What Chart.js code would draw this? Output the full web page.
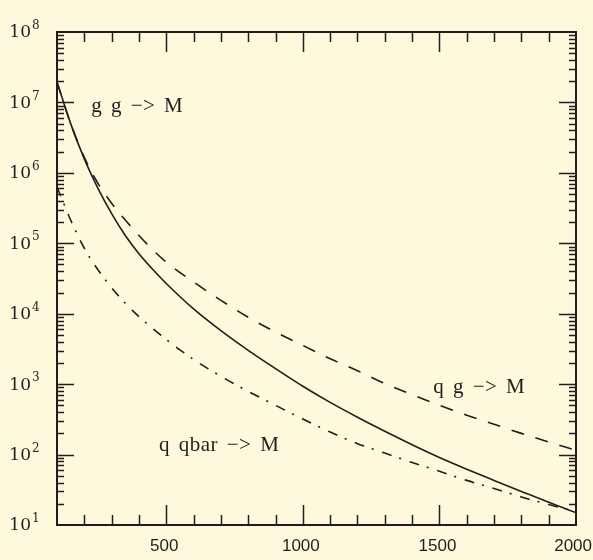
<!DOCTYPE html>
<html>
<head>
<meta charset="utf-8">
<script src="https://cdn.jsdelivr.net/npm/chart.js@4/dist/chart.umd.min.js"></script>
<style>
    html, body { margin: 0; padding: 0; background: #fef8dc; }
    #wrap { width: 593px; height: 560px; }
</style>
</head>
<body>
<div id="wrap"><canvas id="xsec"></canvas></div>
<script>
// Mass points and cross sections for the three production channels
const massPoints = [100, 150, 200, 250, 300, 350, 400, 450, 500, 600, 700, 800, 900, 1000,
    1100, 1200, 1300, 1400, 1500, 1600, 1700, 1800, 1900, 2000];
const ggValues = [1.95e7, 5.0e6, 1.58e6, 6.0e5, 2.63e5, 1.29e5, 7.1e4, 4.27e4, 2.69e4, 1.17e4, 5750, 3020, 1660, 933,
    550, 339, 214, 138, 91, 62, 43, 30, 21, 15];
const qgValues = [1.95e7, 5.0e6, 1.66e6, 7.1e5, 3.7e5, 2.14e5, 1.29e5, 8.1e4, 5.4e4, 2.82e4, 1.55e4, 8900, 5500, 3550,
    2290, 1550, 1020, 710, 500, 363, 269, 200, 151, 115];
const qqbarValues = [6.3e5, 2.14e5, 8.5e4, 4.2e4, 2.34e4, 1.41e4, 9100, 6200, 4300, 2240, 1290, 790, 500, 320,
    209, 143, 105, 77, 58, 43, 33, 25, 19.5, 15.5];

const xMajorTicks = [500, 1000, 1500, 2000];
const yExponents = [1, 2, 3, 4, 5, 6, 7, 8];

// curve captions: text, mass and value where the baseline starts
const captions = [
    { text: 'g g −> M', x: 225, y: 7.3e6 },
    { text: 'q g −> M', x: 1477, y: 750 },
    { text: 'q qbar −> M', x: 473, y: 112 }
];

const ink = '#1e1e1e';

function toPoints(values) {
    return massPoints.map((m, i) => ({ x: m, y: values[i] }));
}

// frame, inward ticks on all four sides, tick labels and captions
const framePlugin = {
    id: 'frame',
    afterDraw(chart) {
        const ctx = chart.ctx;
        const a = chart.chartArea;
        const xs = chart.scales.x, ys = chart.scales.y;
        ctx.save();
        ctx.strokeStyle = ink;
        ctx.lineCap = 'butt';

        // x ticks every 100, longer at every 500
        ctx.lineWidth = 1.5;
        ctx.beginPath();
        for (let m = 200; m < 2000; m += 100) {
            const px = Math.round(xs.getPixelForValue(m)) + 0.5;
            const len = m % 500 === 0 ? 20 : 10;
            ctx.moveTo(px, a.bottom); ctx.lineTo(px, a.bottom - len);
            ctx.moveTo(px, a.top); ctx.lineTo(px, a.top + len);
        }
        // y ticks: decades long, 2..9 short
        for (let e = 1; e <= 8; e++) {
            for (let k = 1; k <= 9; k++) {
                const v = k * Math.pow(10, e);
                if (v <= 10 || v >= 1e8) continue;
                const py = Math.round(ys.getPixelForValue(v)) + 0.5;
                const len = k === 1 ? 17 : 7;
                ctx.moveTo(a.left, py); ctx.lineTo(a.left + len, py);
                ctx.moveTo(a.right, py); ctx.lineTo(a.right - len, py);
            }
        }
        ctx.stroke();

        // frame
        ctx.lineWidth = 2;
        ctx.strokeRect(a.left, a.top, a.right - a.left, a.bottom - a.top);

        // x labels
        ctx.fillStyle = ink;
        ctx.font = '17px "Liberation Sans", Arial, sans-serif';
        ctx.textAlign = 'center';
        ctx.textBaseline = 'middle';
        xMajorTicks.forEach(m => {
            const label = String(m);
            let px = xs.getPixelForValue(m) - 2;
            const w = ctx.measureText(label).width;
            px = Math.min(px, chart.width - 1 - w / 2);
            ctx.fillText(label, px, 546);
        });

        // y labels as 10 with a raised exponent
        yExponents.forEach(e => {
            const py = ys.getPixelForValue(Math.pow(10, e));
            ctx.font = '17px "DejaVu Serif", serif';
            ctx.textAlign = 'right';
            ctx.textBaseline = 'middle';
            ctx.fillText('10', 31, py + 1);
            ctx.font = '12px "DejaVu Serif", serif';
            ctx.textAlign = 'left';
            ctx.fillText(String(e), 32, py - 6);
        });

        // captions
        ctx.font = '21px "Liberation Serif", "Times New Roman", serif';
        ctx.textAlign = 'left';
        ctx.textBaseline = 'alphabetic';
        ctx.letterSpacing = '0.5px';
        ctx.wordSpacing = '3px';
        captions.forEach(c => {
            ctx.fillText(c.text, xs.getPixelForValue(c.x), ys.getPixelForValue(c.y));
        });
        ctx.restore();
    }
};

new Chart(document.getElementById('xsec'), {
    type: 'line',
    data: {
        datasets: [
            {
                label: 'g g -> M',
                data: toPoints(ggValues),
                borderColor: ink,
                borderWidth: 1.6
            },
            {
                label: 'q g -> M',
                data: toPoints(qgValues),
                borderColor: ink,
                borderWidth: 1.6,
                borderDash: [13, 12]
            },
            {
                label: 'q qbar -> M',
                data: toPoints(qqbarValues),
                borderColor: ink,
                borderWidth: 1.6,
                borderDash: [10, 8, 2, 9]
            }
        ]
    },
    options: {
        responsive: true,
        maintainAspectRatio: false,
        animation: false,
        layout: { padding: { left: 57, right: 17, top: 32, bottom: 35 } },
        elements: {
            point: { radius: 0 },
            line: { cubicInterpolationMode: 'monotone', fill: false }
        },
        plugins: {
            legend: { display: false },
            tooltip: { enabled: false }
        },
        scales: {
            x: { type: 'linear', min: 100, max: 2000, display: false },
            y: { type: 'logarithmic', min: 10, max: 1e8, display: false }
        }
    },
    plugins: [framePlugin]
});
</script>
</body>
</html>
